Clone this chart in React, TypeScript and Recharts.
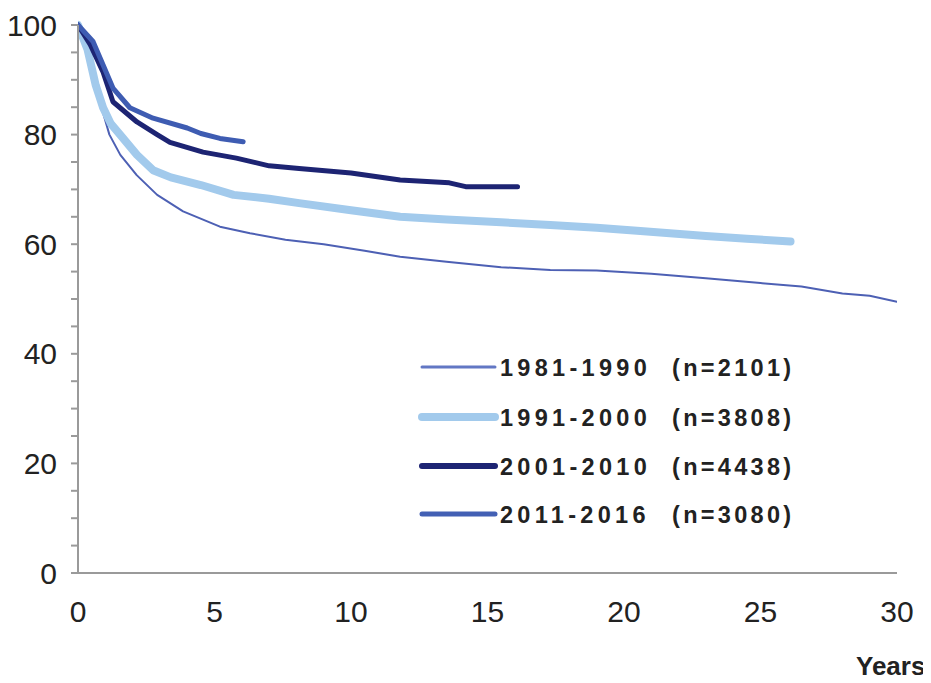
import React from 'react';
import { LineChart, Line, XAxis, YAxis } from 'recharts';

const xTicks = [0, 5, 10, 15, 20, 25, 30];
const yTicks = [0, 5, 10, 15, 20, 25, 30, 35, 40, 45, 50, 55, 60, 65, 70, 75, 80, 85, 90, 95, 100];

const tA = [0, 0.2, 0.45, 0.8, 1.15, 1.55, 2.15, 2.9, 3.85, 5.2, 6.3, 7.6, 9, 10.5, 11.8, 13.5, 15.5, 17.3, 19, 21, 23, 25, 26.5, 28, 29, 30];
const vA = [100, 97, 94, 86, 80, 76.3, 72.6, 69, 66, 63.2, 62, 60.8, 60, 58.8, 57.7, 56.8, 55.8, 55.3, 55.2, 54.6, 53.8, 52.9, 52.3, 51, 50.6, 49.5];

const tB = [0, 0.35, 0.65, 0.92, 1.2, 1.54, 2.16, 2.75, 3.4, 4.5, 5.7, 7, 8.1, 10, 11.8, 13.5, 15.5, 17.3, 19, 20.6, 23, 24.5, 26.1];
const vB = [100, 95.5, 89, 84.9, 82, 80, 76.3, 73.5, 72.2, 70.8, 69, 68.3, 67.5, 66.2, 65, 64.5, 64, 63.5, 63, 62.4, 61.5, 61, 60.5];

const tC = [0, 0.45, 0.92, 1.28, 2.16, 2.9, 3.37, 4.58, 5.8, 7.0, 8.1, 10, 11.8, 13.6, 14.2, 16.1];
const vC = [100, 96.4, 91.4, 86, 82.3, 80, 78.6, 76.8, 75.7, 74.3, 73.8, 73, 71.7, 71.2, 70.5, 70.5];

const tD = [0, 0.55, 0.92, 1.28, 1.9, 2.75, 4, 4.5, 5.2, 6.05];
const vD = [100, 97, 92.7, 88.5, 84.9, 83, 81.2, 80.2, 79.3, 78.7];

const labels = ['1981-1990', '1991-2000', '2001-2010', '2011-2016'];
const counts = ['(n=2101)', '(n=3808)', '(n=4438)', '(n=3080)'];
const colors = ['#4d60b4', '#a2caec', '#1d2473', '#3e5cb2'];
const widths = [2, 8, 5, 5];
const legendWidths = [3, 8, 6, 5];
const legendColors = ['#6277c4', '#a2caec', '#1d2473', '#4360b4'];

const build = (t: number[], v: number[]) => t.map((x, i) => ({ t: x, s: v[i] }));
const series = [build(tA, vA), build(tB, vB), build(tC, vC), build(tD, vD)];

const LegendBox = () => {
  const rowY = [19, 69, 118, 166];
  return (
    <svg width={400} height={190} style={{ position: 'absolute', left: 400, top: 340 }}>
      {labels.map((l, i) => (
        <g key={l}>
          <line x1={14} x2={87} y1={rowY[i]} y2={rowY[i]} stroke={legendColors[i]} strokeWidth={legendWidths[i]} strokeLinecap="round" />
          <text x={92} y={rowY[i] + 8.5} fontFamily="Liberation Sans, Arial, sans-serif" fontWeight="bold" fontSize={23.5} letterSpacing={4.3} fill="#222">{l}</text>
          <text x={264} y={rowY[i] + 8.5} fontFamily="Liberation Sans, Arial, sans-serif" fontWeight="bold" fontSize={23.5} letterSpacing={3.3} fill="#222">{counts[i]}</text>
        </g>
      ))}
    </svg>
  );
};

export default function App() {
  return (
    <div style={{ position: 'relative', width: 915, height: 667 }}>
      <LineChart width={915} height={667} margin={{ top: 17, right: 26, left: 0, bottom: 62 }}>
        <XAxis
          dataKey="t"
          type="number"
          domain={[0, 30]}
          ticks={xTicks}
          allowDataOverflow
          tickLine={false}
          tickSize={0}
          tickMargin={28}
          height={40}
          stroke="#9a9a9a"
          strokeWidth={2}
          tick={{ fill: '#222', fontSize: 30, fontFamily: 'Liberation Sans, Arial, sans-serif' }}
        />
        <YAxis
          type="number"
          domain={[0, 100]}
          ticks={yTicks}
          interval={0}
          width={70}
          tickSize={7}
          tickMargin={14}
          stroke="#9a9a9a"
          strokeWidth={2}
          tickFormatter={(v: number) => (v % 20 === 0 ? String(v) : '')}
          tick={{ fill: '#222', fontSize: 30, fontFamily: 'Liberation Sans, Arial, sans-serif' }}
        />
        {series.map((d, i) => (
          <Line
            key={labels[i]}
            data={d}
            dataKey="s"
            type="linear"
            stroke={colors[i]}
            strokeWidth={widths[i]}
            dot={false}
            strokeLinecap="round"
            strokeLinejoin="round"
            isAnimationActive={false}
            name={labels[i]}
          />
        ))}
      </LineChart>
      <LegendBox />
      <span
        style={{
          position: 'absolute',
          left: 848,
          top: 643,
          fontFamily: 'Liberation Sans, Arial, sans-serif',
          fontWeight: 'bold',
          fontSize: 26,
          color: '#222',
          lineHeight: '30px',
        }}
      >
        Years
      </span>
    </div>
  );
}
